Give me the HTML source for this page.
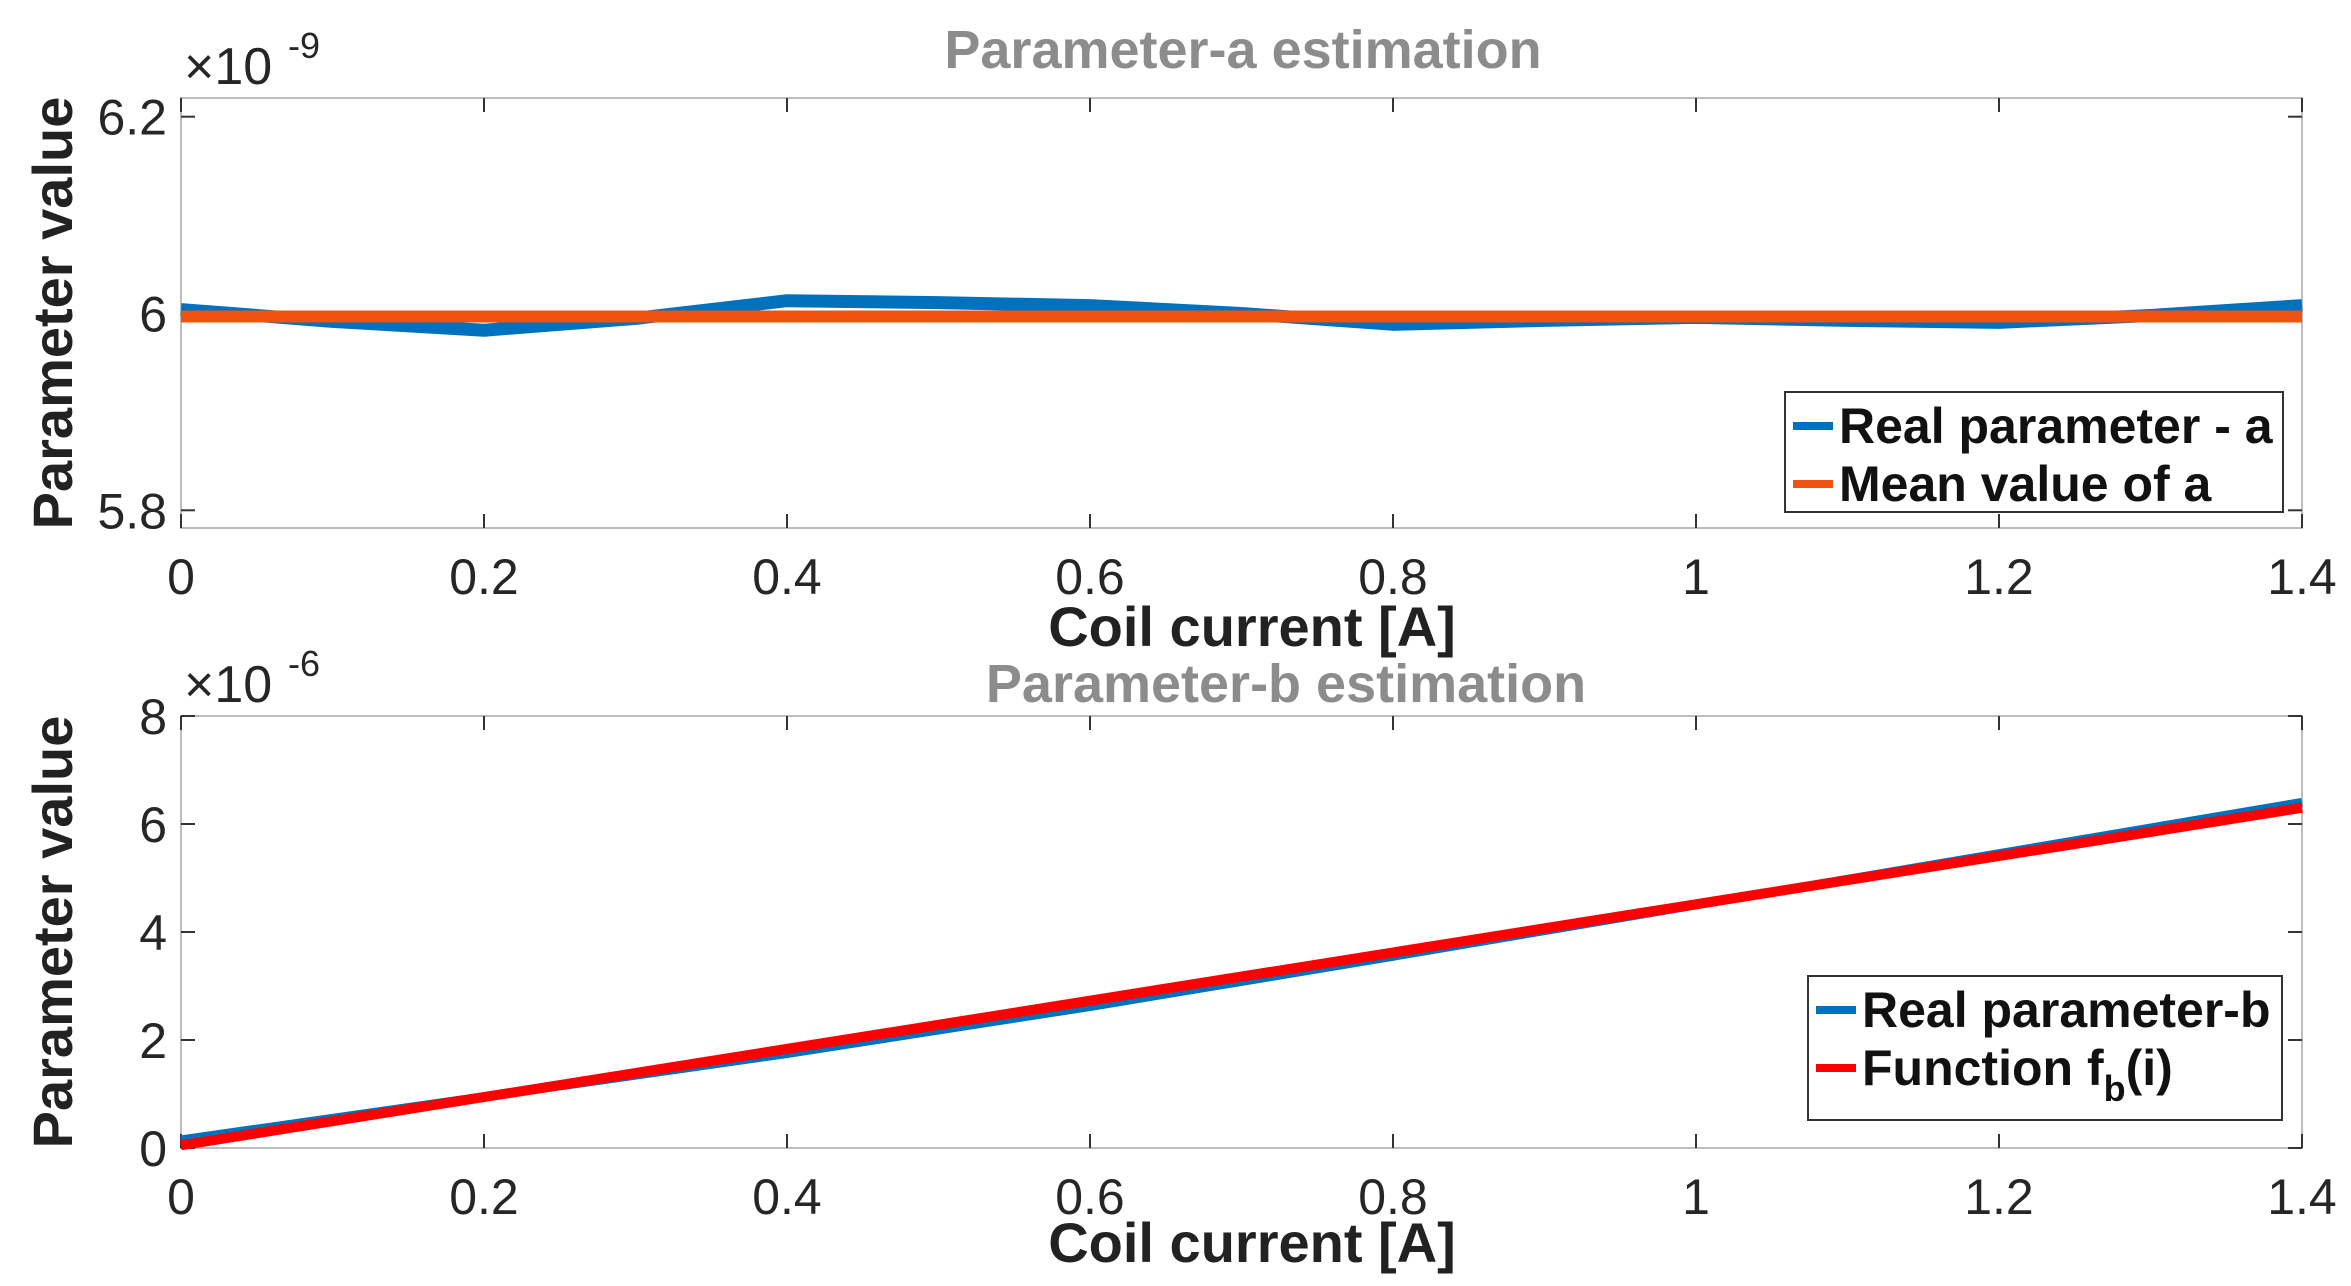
<!DOCTYPE html>
<html><head><meta charset="utf-8"><style>
html,body{margin:0;padding:0;background:#fff;}
svg{display:block;font-family:"Liberation Sans",sans-serif;}
</style></head><body>
<svg id="chart" width="2351" height="1286" viewBox="0 0 2351 1286" xmlns="http://www.w3.org/2000/svg"></svg>
<script>
const xTicks=[0,0.2,0.4,0.6,0.8,1,1.2,1.4];
const xTickLabels=["0","0.2","0.4","0.6","0.8","1","1.2","1.4"];
const xA=[0,0.1,0.2,0.3,0.4,0.5,0.6,0.7,0.8,0.9,1.0,1.1,1.2,1.3,1.4];
const realA=[6.004,5.992,5.983,5.995,6.013,6.011,6.008,6.0,5.989,5.993,5.996,5.993,5.991,5.998,6.008];
const meanA=[5.997,5.997];
const meanAX=[0,1.4];
const yTicksA=[5.8,6,6.2];
const yTickLabelsA=["5.8","6","6.2"];
const xB=[0,0.2,0.4,0.6,0.8,1.0,1.2,1.4];
const realB=[0.15,0.95,1.75,2.62,3.55,4.5,5.45,6.4];
const fbX=[0,1.4];
const fbY=[0.05,6.3];
const yTicksB=[0,2,4,6,8];
const yTickLabelsB=["0","2","4","6","8"];

const svg=document.getElementById('chart');
const NS="http://www.w3.org/2000/svg";
function mk(tag,attrs,parent){const e=document.createElementNS(NS,tag);for(const k in attrs)e.setAttribute(k,attrs[k]);(parent||svg).appendChild(e);return e;}
function txt(s,attrs,parent){const e=mk('text',attrs,parent);e.textContent=s;return e;}

function panel(cfg){
  const g=mk('g',{});
  
  
  const L=181,R=2302,T=cfg.top,B=cfg.bottom;
  const sx=v=>L+(v-0)/(1.4-0)*(R-L);
  const sy=v=>B-(v-cfg.ymin)/(cfg.ymax-cfg.ymin)*(B-T);
  const box=mk('rect',{x:L,y:T,width:R-L,height:B-T,fill:'#fff',stroke:'#bdbdbd','stroke-width':2},g);
  
  
  xTicks.forEach((t,i)=>{
    const x=sx(t);
    mk('line',{x1:x,y1:B,x2:x,y2:B-14,stroke:'#333','stroke-width':2},g);
    mk('line',{x1:x,y1:T,x2:x,y2:T+14,stroke:'#333','stroke-width':2},g);
    const l=txt(xTickLabels[i],{x:x,y:B+66,'font-size':50,fill:'#262626','text-anchor':'middle'},g);
    
    
  });
  cfg.yt.forEach((t,i)=>{
    const y=sy(t);
    mk('line',{x1:L,y1:y,x2:L+14,y2:y,stroke:'#333','stroke-width':2},g);
    mk('line',{x1:R,y1:y,x2:R-14,y2:y,stroke:'#333','stroke-width':2},g);
    const l=txt(cfg.ytl[i],{x:L-14,y:y+18,'font-size':50,fill:'#262626','text-anchor':'end'},g);
    
    
  });
  cfg.series.forEach(s=>{
    const pts=s.x.map((v,i)=>sx(v)+','+sy(s.y[i])).join(' ');
    const p=mk('polyline',{points:pts,fill:'none',stroke:s.color,'stroke-width':s.w,'stroke-linejoin':'round'},g);
    
    
  });
  const ti=txt(cfg.title,{x:cfg.titleX,y:cfg.titleY,'font-size':54,'font-weight':'bold',fill:'#8c8c8c','text-anchor':'middle'},g);
  
  
  const ex=txt('×10',{x:184,y:T-14,'font-size':52,fill:'#262626'},g);
  
  
  txt(cfg.exp,{x:288,y:T-40,'font-size':36,fill:'#262626'},g);
  const yl=txt('Parameter value',{x:0,y:0,'font-size':56,'font-weight':'bold',fill:'#222','text-anchor':'middle',transform:`translate(72,${(T+B)/2}) rotate(-90)`},g);
  
  
  const xl=txt('Coil current [A]',{x:1252,y:cfg.xlabelY,'font-size':56,'font-weight':'bold',fill:'#222','text-anchor':'middle'},g);
  
  
  const lg=mk('g',{},g);
  
  
  const b=cfg.legend;
  mk('rect',{x:b.x,y:b.y,width:b.w,height:b.h,fill:'#fff',stroke:'#333','stroke-width':2},lg);
  b.items.forEach((it,i)=>{
    const cy=b.y+34+i*58;
    mk('line',{x1:b.x+8,y1:cy,x2:b.x+48,y2:cy,stroke:it.color,'stroke-width':8},lg);
    const t=txt('',{x:b.x+54,y:cy+17,'font-size':50,'font-weight':'bold',fill:'#111'},lg);
    
    
    t.textContent=it.label;
    if(it.sub){const s1=document.createElementNS(NS,'tspan');s1.setAttribute('font-size',36);s1.setAttribute('dy',16);s1.textContent=it.sub;t.appendChild(s1);
      const s2=document.createElementNS(NS,'tspan');s2.setAttribute('dy',-16);s2.textContent=it.after;t.appendChild(s2);}
  });
}
panel({name:'panel-parameter-a',top:98,bottom:528,ymin:5.782,ymax:6.219,yt:yTicksA,ytl:yTickLabelsA,
  title:'Parameter-a estimation',titleX:1243,titleY:68,exp:'-9',xlabelY:646,
  series:[{name:'real-parameter-a-line',x:xA,y:realA,color:'#0072bd',w:13},
          {name:'mean-value-a-line',x:meanAX,y:meanA,color:'#f0520f',w:12}],
  legend:{x:1785,y:392,w:498,h:120,items:[{label:'Real parameter - a',color:'#0072bd'},{label:'Mean value of a',color:'#f0520f'}]}});
panel({name:'panel-parameter-b',top:716,bottom:1148,ymin:0,ymax:8,yt:yTicksB,ytl:yTickLabelsB,
  title:'Parameter-b estimation',titleX:1286,titleY:702,exp:'-6',xlabelY:1262,
  series:[{name:'real-parameter-b-line',x:xB,y:realB,color:'#0072bd',w:9},
          {name:'function-fb-line',x:fbX,y:fbY,color:'#ff0000',w:10}],
  legend:{x:1808,y:976,w:474,h:144,items:[{label:'Real parameter-b',color:'#0072bd'},{label:'Function f',sub:'b',after:'(i)',color:'#ff0000'}]}});
</script>
</body></html>
